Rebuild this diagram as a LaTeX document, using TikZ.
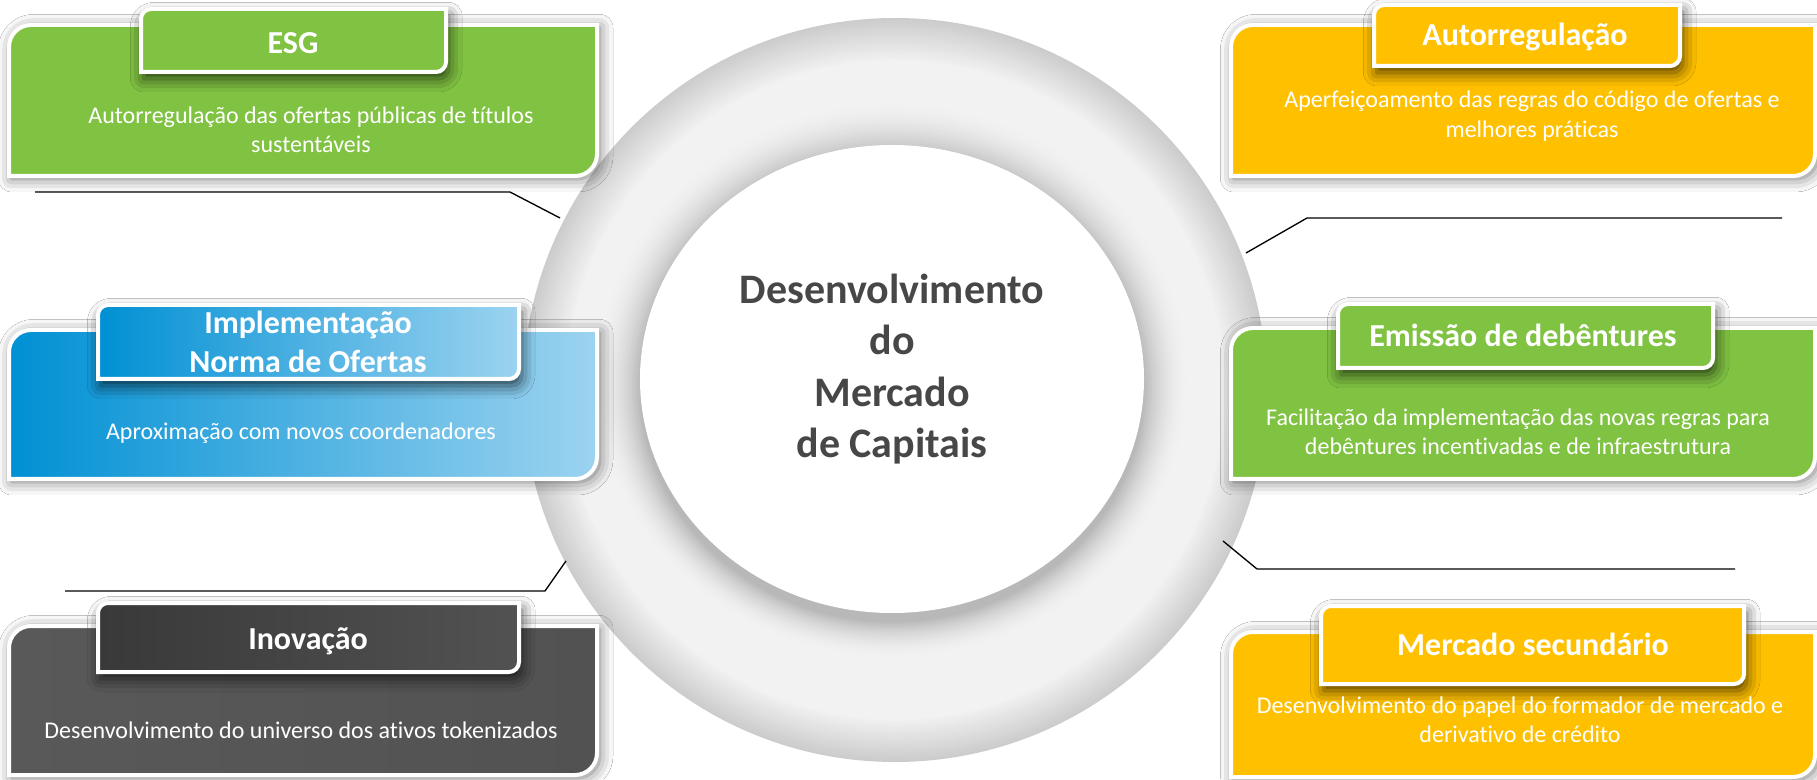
\documentclass[tikz,border=0pt]{standalone}
\usepackage{fontspec}
\setmainfont{Carlito}[Ligatures=NoCommon]
\usetikzlibrary{shadows.blur}
\definecolor{cgreen}{HTML}{80C242}
\definecolor{cyellow}{HTML}{FFC000}
\definecolor{cblueA}{HTML}{0090D4}
\definecolor{cblueM}{HTML}{1C9EDC}
\definecolor{cblueB}{HTML}{9CD3F0}
\definecolor{cgrayA}{HTML}{393939}
\definecolor{cgrayB}{HTML}{525252}
\definecolor{cgrayC}{HTML}{595959}
\definecolor{ctext}{HTML}{474747}
\newcommand\bpath[5]{(#1,#2) -- (#1,#4-#5) arc[start angle=180,end angle=90,radius=#5] -- (#3,#4) -- (#3,#2+#5) arc[start angle=0,end angle=-90,radius=#5] -- cycle}
\begin{document}
\begin{tikzpicture}[x=0.75pt,y=0.75pt,
  bigbox/.style={draw=white, line width=3pt, blur shadow={shadow xshift=2pt, shadow yshift=-2pt, shadow blur radius=10pt, shadow opacity=55}},
  titlebox/.style={draw=white, line width=3pt, blur shadow={shadow xshift=2pt, shadow yshift=-5pt, shadow blur radius=10pt, shadow opacity=70}},
  ttl/.style={text=white, font=\fontsize{24}{29.5}\selectfont\bfseries, align=center},
  bdy/.style={text=white, font=\fontsize{18}{22}\selectfont, align=center},
  conn/.style={draw=black, line width=1pt}]
\useasboundingbox (0,0) rectangle (1817,779);
\fill[white] (0,0) rectangle (1817,779);
% ring
\foreach \i in {0,...,24}{
  \pgfmathsetmacro\rr{372-1.8*\i}
  \pgfmathsetmacro\cc{20-15*\i/24}
  \fill[black!\cc] (895,389) circle[radius=\rr];
}
\foreach \j in {0,...,24}{
  \pgfmathsetmacro\ex{252+48-2*\j}
  \pgfmathsetmacro\ey{234+48-2*\j}
  \pgfmathsetmacro\cc{5+23*(\j/24)^2}
  \pgfmathsetmacro\oy{400-9*\j/24}
  \fill[black!\cc] (892,\oy) ellipse[x radius=\ex, y radius=\ey];
}
\fill[white] (892,400) ellipse[x radius=252,y radius=234];
\node[text=ctext, font=\fontsize{31.5}{38.4}\selectfont\bfseries, align=center] (center) at (892,410) {Desenvolvimento\\do\\Mercado\\de Capitais};
% connectors
\coordinate (l1s) at (35,587); \coordinate (l1k) at (510,587); \coordinate (l1e) at (560,561);
\coordinate (l2s) at (65,188); \coordinate (l2k) at (545,188); \coordinate (l2e) at (566,218);
\coordinate (l3s) at (1782,561); \coordinate (l3k) at (1307,561); \coordinate (l3e) at (1246,526);
\coordinate (l4s) at (1735,210); \coordinate (l4k) at (1257,210); \coordinate (l4e) at (1223,238);
\draw[conn] (l1s) -- (l1k) -- (l1e);
\draw[conn] (l2s) -- (l2k) -- (l2e);
\draw[conn] (l3s) -- (l3k) -- (l3e);
\draw[conn] (l4s) -- (l4k) -- (l4e);
% ESG
\path[bigbox, fill=cgreen] \bpath{9}{603}{597}{754}{22};
\path[titlebox, fill=cgreen] \bpath{141}{707}{446}{770}{10};
\node[ttl] (esgT) at (293,736) {ESG};
\node[bdy] (esgB) at (311,649) {Autorregulação das ofertas públicas de títulos\\sustentáveis};
% Implementacao
\path[bigbox, left color=cblueA, middle color=cblueM, right color=cblueB] \bpath{9}{300}{597}{449}{22};
\path[titlebox, left color=cblueA, middle color=cblueM, right color=cblueB] \bpath{98}{400}{519}{474}{10};
\node[ttl] (impT) at (308,437) {Implementação\\Norma de Ofertas};
\node[bdy] (impB) at (301,346) {Aproximação com novos coordenadores};
% Inovacao
\path[bigbox, left color=cgrayC, right color=cgrayB] \bpath{9}{4}{597}{153}{22};
\path[titlebox, left color=cgrayA, right color=cgrayB] \bpath{98}{107}{519}{176}{10};
\node[ttl] (inoT) at (308,138) {Inovação};
\node[bdy] (inoB) at (301,49) {Desenvolvimento do universo dos ativos tokenizados};
% Autorregulacao
\path[bigbox, fill=cyellow] \bpath{1231}{603}{1815}{754}{22};
\path[titlebox, fill=cyellow] \bpath{1374}{713}{1680}{774}{10};
\node[ttl] (autT) at (1525,742) {Autorregulação};
\node[bdy] (autB) at (1532,663) {Aperfeiçoamento das regras do código de ofertas e\\melhores práticas};
% Emissao
\path[bigbox, fill=cgreen] \bpath{1231}{300}{1815}{451}{22};
\path[titlebox, fill=cgreen] \bpath{1338}{411}{1713}{475}{10};
\node[ttl] (emiT) at (1523,444) {Emissão de debêntures};
\node[bdy] (emiB) at (1518,347) {Facilitação da implementação das novas regras para\\debêntures incentivadas e de infraestrutura};
% Mercado secundario
\path[bigbox, fill=cyellow] \bpath{1231}{2}{1815}{147}{22};
\path[titlebox, fill=cyellow] \bpath{1321}{95}{1744}{173}{10};
\node[ttl] (merT) at (1533,135) {Mercado secundário};
\node[bdy] (merB) at (1520,59) {Desenvolvimento do papel do formador de mercado e\\derivativo de crédito};
\end{tikzpicture}
\end{document}
